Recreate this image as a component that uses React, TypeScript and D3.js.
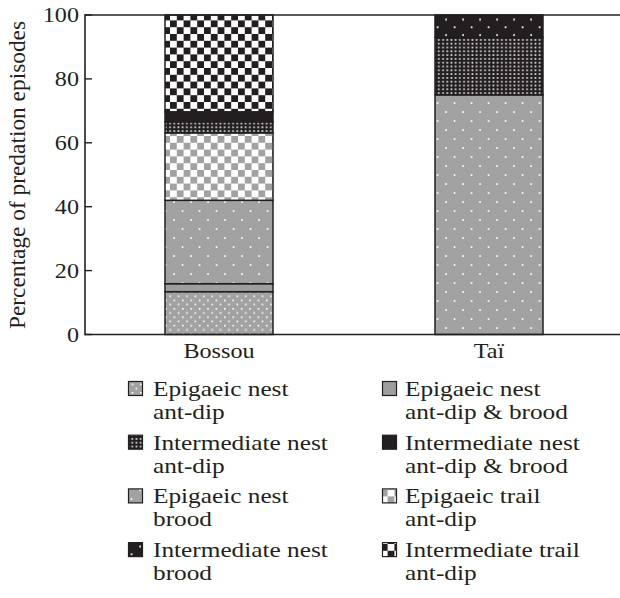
import React from "react";
import * as d3 from "d3";

const sites = ["Bossou", "Taï"];
const seriesKeys = [
  "epiNestAntDip",
  "epiNestAntDipBrood",
  "epiNestBrood",
  "epiTrailAntDip",
  "intNestAntDip",
  "intNestAntDipBrood",
  "intTrailAntDip",
  "intNestBrood",
];
const bossouValues = [13.4, 2.5, 26.1, 21.1, 3.5, 3.1, 30.3, 0];
const taiValues = [0, 0, 75, 0, 18.1, 0, 0, 6.9];
const yTicks = [0, 20, 40, 60, 80, 100];

const legendLeft = [
  { key: "epiNestAntDip", lines: ["Epigaeic nest", "ant-dip"] },
  { key: "intNestAntDip", lines: ["Intermediate nest", "ant-dip"] },
  { key: "epiNestBrood", lines: ["Epigaeic nest", "brood"] },
  { key: "intNestBrood", lines: ["Intermediate nest", "brood"] },
];
const legendRight = [
  { key: "epiNestAntDipBrood", lines: ["Epigaeic nest", "ant-dip & brood"] },
  { key: "intNestAntDipBrood", lines: ["Intermediate nest", "ant-dip & brood"] },
  { key: "epiTrailAntDip", lines: ["Epigaeic trail", "ant-dip"] },
  { key: "intTrailAntDip", lines: ["Intermediate trail", "ant-dip"] },
];

const GREY = "#a2a2a2";
const DARK = "#231f20";
const FONT = "'Liberation Serif', 'Times New Roman', serif";
const SX = 1.15;

const fillFor: Record<string, string> = {
  epiNestAntDip: "url(#pDenseGrey)",
  epiNestAntDipBrood: "#9e9e9e",
  epiNestBrood: "url(#pSparseGrey)",
  epiTrailAntDip: "url(#pCheckGrey)",
  intNestAntDip: "url(#pDenseDark)",
  intNestAntDipBrood: DARK,
  intTrailAntDip: "url(#pCheckDark)",
  intNestBrood: "url(#pSparseDark)",
};

export default function App() {
  const W = 620;
  const H = 598;
  const left = 85;
  const top = 15;
  const bottom = 334.5;

  const x = d3
    .scaleBand<string>()
    .domain(sites)
    .range([left, 623])
    .paddingInner(0.6)
    .paddingOuter(0.2963);
  const y = d3.scaleLinear().domain([0, 100]).range([bottom, top]);

  const rows = sites.map((s, i) => {
    const vals = i === 0 ? bossouValues : taiValues;
    const o: any = { site: s };
    seriesKeys.forEach((k, j) => (o[k] = vals[j]));
    return o;
  });
  const stacked = d3.stack<any>().keys(seriesKeys)(rows);

  const txt = (xx: number, yy: number, s: string, anchor: string = "start", size = 22) => (
    <text
      transform={`translate(${xx},${yy}) scale(${SX},1)`}
      textAnchor={anchor as any}
      fontFamily={FONT}
      fontSize={size}
      fill={DARK}
    >
      {s}
    </text>
  );

  const legendEntry = (e: { key: string; lines: string[] }, i: number, sx: number, tx: number) => {
    const base = 396 + i * 53.7;
    return (
      <g key={e.key}>
        <rect x={sx} y={base - 14.5} width={14} height={14} fill={fillFor[e.key]} stroke={DARK} strokeWidth={1.2} />
        {txt(tx, base, e.lines[0])}
        {txt(tx, base + 23, e.lines[1])}
      </g>
    );
  };

  return (
    <svg width={W} height={H} style={{ position: "absolute", left: 0, top: 0 }}>
      <defs>
        <pattern id="pDenseGrey" patternUnits="userSpaceOnUse" width={8.4} height={8.4}>
          <rect width={8.4} height={8.4} fill={GREY} />
          <rect x={1.4} y={1.4} width={1.6} height={1.6} fill="#fff" />
          <rect x={5.6} y={5.6} width={1.6} height={1.6} fill="#fff" />
        </pattern>
        <pattern id="pSparseGrey" patternUnits="userSpaceOnUse" width={17} height={18}>
          <rect width={17} height={18} fill={GREY} />
          <rect x={3.2} y={3.2} width={1.7} height={1.7} fill="#fff" />
          <rect x={11.7} y={12.2} width={1.7} height={1.7} fill="#fff" />
        </pattern>
        <pattern id="pCheckGrey" patternUnits="userSpaceOnUse" width={13.6} height={13.6}>
          <rect width={13.6} height={13.6} fill="#fff" />
          <rect x={0} y={0} width={6.8} height={6.8} fill={GREY} />
          <rect x={6.8} y={6.8} width={6.8} height={6.8} fill={GREY} />
        </pattern>
        <pattern id="pDenseDark" patternUnits="userSpaceOnUse" width={4.2} height={3.8}>
          <rect width={4.2} height={3.8} fill={DARK} />
          <rect x={1.2} y={1.1} width={1.7} height={1.6} fill="#e8e8e8" />
        </pattern>
        <pattern id="pSparseDark" patternUnits="userSpaceOnUse" width={17} height={15.5}>
          <rect width={17} height={15.5} fill={DARK} />
          <rect x={3.2} y={3.2} width={1.8} height={1.8} fill="#eee" />
          <rect x={11.7} y={10.9} width={1.8} height={1.8} fill="#eee" />
        </pattern>
        <pattern id="pCheckDark" patternUnits="userSpaceOnUse" width={13.6} height={13.6}>
          <rect width={13.6} height={13.6} fill="#fff" />
          <rect x={0} y={0} width={6.8} height={6.8} fill={DARK} />
          <rect x={6.8} y={6.8} width={6.8} height={6.8} fill={DARK} />
        </pattern>
      </defs>

      {/* bars */}
      {stacked.map((layer) =>
        layer.map((d, i) => {
          const h = y(d[0]) - y(d[1]);
          if (h <= 0) return null;
          return (
            <rect
              key={layer.key + i}
              x={x(sites[i])!}
              y={y(d[1])}
              width={x.bandwidth()}
              height={h}
              fill={fillFor[layer.key]}
              stroke={DARK}
              strokeWidth={1.5}
            />
          );
        })
      )}

      {/* axes */}
      <line x1={left} x2={W} y1={top} y2={top} stroke={DARK} strokeWidth={1.6} />
      <line x1={left} x2={W} y1={bottom} y2={bottom} stroke={DARK} strokeWidth={1.6} />
      <line x1={left} x2={left} y1={top - 0.8} y2={bottom + 0.8} stroke={DARK} strokeWidth={1.6} />
      {yTicks.map((t) => (
        <g key={t}>
          <line x1={left} x2={left + 7} y1={y(t)} y2={y(t)} stroke={DARK} strokeWidth={1.4} />
          {txt(79, y(t) + 7, String(t), "end", 21)}
        </g>
      ))}
      {sites.map((s) => (
        <g key={s}>{txt(x(s)! + x.bandwidth() / 2, 358, s, "middle", 21)}</g>
      ))}
      <text
        transform={`translate(25,175) rotate(-90) scale(1.14,1.1)`}
        textAnchor="middle"
        fontFamily={FONT}
        fontSize={20.5}
        fill={DARK}
      >
        Percentage of predation episodes
      </text>

      {/* legend */}
      {legendLeft.map((e, i) => legendEntry(e, i, 128.5, 153))}
      {legendRight.map((e, i) => legendEntry(e, i, 382.5, 405))}
    </svg>
  );
}
